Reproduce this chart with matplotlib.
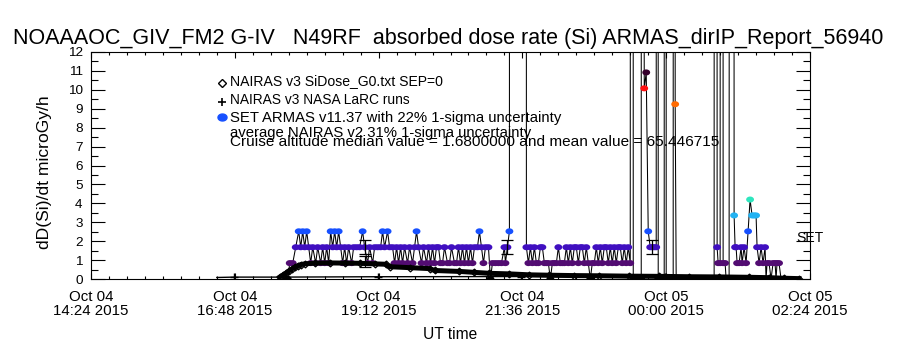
import matplotlib
matplotlib.use("Agg")
import matplotlib.pyplot as plt
import matplotlib.dates as mdates
from matplotlib.colors import ListedColormap, BoundaryNorm
from matplotlib.ticker import FixedLocator, MultipleLocator, FixedFormatter
from matplotlib.path import Path
from matplotlib import font_manager
from datetime import datetime, timedelta
import numpy as np

# ---------------- fonts ----------------
names = {f.name for f in font_manager.fontManager.ttflist}
FAM = "Liberation Sans Narrow" if "Liberation Sans Narrow" in names else "Liberation Sans"
plt.rcParams["font.family"] = [FAM, "DejaVu Sans"]

# ---------------- data ----------------
start_time = "2015-10-04 14:24"
xtick_times = ["2015-10-04 14:24", "2015-10-04 16:48", "2015-10-04 19:12",
               "2015-10-04 21:36", "2015-10-05 00:00", "2015-10-05 02:24"]
xtick_labels = ["Oct 04\n14:24 2015", "Oct 04\n16:48 2015", "Oct 04\n19:12 2015",
                "Oct 04\n21:36 2015", "Oct 05\n00:00 2015", "Oct 05\n02:24 2015"]
ytick_values = [0, 1, 2, 3, 4, 5, 6, 7, 8, 9, 10, 11, 12]

# ARMAS SET dose rate (microGy/h), minutes after 14:24 UT; 500 = off scale
armas_min = [
    197, 199, 202, 205, 208, 210, 212, 214, 216, 218,
    220, 222, 225, 227, 230, 232, 234, 236, 238, 240,
    242, 244, 246, 248, 250, 252, 254, 256, 258, 261,
    263, 266, 269, 272, 274, 277, 279, 282, 284, 287,
    290, 292, 294, 297, 299, 302, 304, 306, 308, 310,
    312, 314, 317, 319, 322, 324, 326, 328, 331, 333,
    336, 338, 340, 342, 344, 346, 348, 350, 352, 354,
    357, 359, 361, 364, 366, 368, 370, 372, 374, 376,
    378, 380, 382, 384, 387, 389, 391, 393, 395, 398,
    400, 402, 405, 408, 411, 414, 415, 417, 419, 420,
    435, 436, 438, 440, 442, 444, 446, 448, 450, 452,
    454, 456, 458, 460, 462, 464, 466, 468, 470, 472,
    474, 476, 478, 480, 482, 484, 486, 488, 490, 492,
    494, 496, 498, 500, 502, 504, 506, 508, 510, 512,
    514, 516, 518, 520, 522, 524, 526, 528, 530, 532,
    534, 536, 538, 540, 542, 543, 547, 551, 552, 554,
    556, 558, 560, 562, 564, 566, 567, 568, 571, 574,
    575, 576, 580, 583, 584, 585, 586, 590, 595, 600,
    605, 610, 615, 620, 624, 625, 627, 628, 630, 632,
    633, 635, 636, 639, 642, 644, 645, 646, 647, 649,
    651, 652, 654, 656, 658, 660, 662, 664, 666, 667,
    669, 671, 673, 675, 676, 677, 679, 681, 683, 685,
    686, 687, 689, 691]
armas_dose = [
    0.0, 0.84, 0.84, 1.68, 2.52, 1.68, 2.52, 1.68, 2.52, 1.68,
    0.84, 1.68, 0.84, 1.68, 0.84, 1.68, 0.84, 1.68, 0.84, 2.52,
    1.68, 2.52, 1.68, 2.52, 1.68, 0.84, 1.68, 0.84, 1.68, 0.84,
    1.68, 1.68, 1.68, 2.52, 1.68, 0.84, 1.68, 0.84, 1.68, 1.68,
    1.68, 2.52, 1.68, 2.52, 1.68, 1.68, 0.84, 1.68, 0.84, 1.68,
    0.84, 1.68, 0.84, 1.68, 0.84, 1.68, 2.52, 1.68, 0.84, 1.68,
    0.84, 1.68, 0.84, 1.68, 0.84, 1.68, 1.68, 0.84, 0.84, 1.68,
    0.84, 0.84, 1.68, 0.84, 0.84, 1.68, 0.84, 1.68, 0.84, 1.68,
    0.84, 1.68, 0.84, 1.68, 1.68, 2.52, 1.68, 0.84, 1.68, 1.68,
    0.0, 0.84, 0.84, 0.84, 0.84, 1.68, 0.84, 1.68, 2.52, 500.0,
    500.0, 1.68, 0.84, 1.68, 0.84, 1.68, 0.84, 0.84, 1.68, 1.68,
    0.84, 0.84, 0.84, 0.0, 0.84, 0.84, 0.84, 1.68, 0.84, 0.84,
    0.84, 1.68, 0.84, 1.68, 0.84, 1.68, 1.68, 0.84, 1.68, 1.68,
    0.84, 1.68, 0.84, 0.0, 0.84, 0.84, 1.68, 0.84, 1.68, 0.84,
    1.68, 1.68, 0.84, 1.68, 0.84, 1.68, 0.84, 1.68, 1.68, 0.84,
    1.68, 0.84, 1.68, 0.84, 500.0, 0.0, 0.0, 0.0, 500.0, 10.08,
    10.92, 2.52, 1.68, 1.68, 1.68, 1.68, 500.0, 0.0, 0.0, 0.0,
    500.0, 0.0, 0.0, 0.0, 500.0, 9.24, 0.0, 0.0, 0.0, 0.0,
    0.0, 0.0, 0.0, 0.0, 0.0, 500.0, 1.68, 0.84, 0.84, 500.0,
    0.84, 0.84, 0.0, 0.0, 500.0, 3.36, 1.68, 1.68, 0.84, 0.84,
    1.68, 0.84, 1.68, 0.84, 2.52, 4.2, 3.36, 3.36, 3.36, 1.68,
    0.84, 1.68, 0.84, 1.68, 0.0, 0.84, 0.84, 0.0, 0.84, 0.84,
    0.0, 0.84, 0.84, 0.0]

# ARMAS 22% 1-sigma uncertainty shown at a few samples
armas_err_min = [274, 417, 562]
armas_err_dose = [1.68, 1.68, 1.68]
armas_unc = 0.22

# NAIRAS v3 SiDose_G0 (SEP=0)
nairas_min = [189, 192, 195, 198, 201, 204, 207, 210, 214, 224,
              239, 254, 269, 284, 295, 299, 319, 339, 344, 369,
              384, 399, 419, 439, 459, 484, 509, 539, 569, 599,
              629, 659, 679, 694, 709]
nairas_dose = [0.10, 0.20, 0.30, 0.42, 0.53, 0.62, 0.70, 0.76, 0.80, 0.84,
               0.85, 0.84, 0.83, 0.80, 0.78, 0.65, 0.60, 0.55, 0.45, 0.40,
               0.35, 0.30, 0.27, 0.22, 0.20, 0.18, 0.17, 0.15, 0.14, 0.12,
               0.11, 0.09, 0.07, 0.04, 0.02]

# NAIRAS v3 NASA LaRC runs
larc_min = [126, 143, 189, 287, 431, 575, 709]
larc_dose = [0.08, 0.10, 0.10, 0.12, 0.13, 0.10, 0.03]
larc_mark_min = [143, 287, 431, 575]
larc_mark_dose = [0.10, 0.12, 0.13, 0.10]

# average NAIRAS with 31% uncertainty
nairas_avg_min = [274]
nairas_avg_dose = [0.93]
nairas_unc = 0.31

# colour levels for ARMAS SET points
level_bounds = [-1.0, 0.42, 1.26, 2.10, 2.94, 3.78, 6.0, 9.66, 10.5, 11.5]
level_colors = ["#000000", "#520c72", "#400fc0", "#1650ff", "#22b2f2",
                "#2ee6be", "#ff6a00", "#ff1010", "#36002c"]

title = "NOAAAOC_GIV_FM2 G-IV   N49RF  absorbed dose rate (Si) ARMAS_dirIP_Report_56940"
legend_lines = ["NAIRAS v3 SiDose_G0.txt SEP=0",
                "NAIRAS v3 NASA LaRC runs",
                "SET ARMAS v11.37 with 22% 1-sigma uncertainty",
                "average NAIRAS v2 31% 1-sigma uncertainty",
                "Cruise altitude median value = 1.6800000 and mean value = 65.446715"]

# ---------------- helpers ----------------
base = datetime.strptime(start_time, "%Y-%m-%d %H:%M")
def to_dt(mins):
    return [base + timedelta(minutes=float(m)) for m in mins]

W, H = 900, 350
fig = plt.figure(figsize=(W / 100, H / 100), dpi=100)
L, R, T, B = 91, 810, 52, 279
ax = fig.add_axes([L / W, 1 - B / H, (R - L) / W, (B - T) / H])

def fx(x):
    return x / W
def fy(y):
    return 1 - y / H

fig.canvas.draw()
renderer = fig.canvas.get_renderer()
def fit(t, width_px):
    w = t.get_window_extent(renderer).width
    t.set_fontsize(t.get_fontsize() * width_px / w)

tmp = fig.text(0.5, 0.5, "16:48 2015", fontsize=11)
fit(tmp, 75)
fs_x = tmp.get_fontsize()
tmp.remove()
tmp = fig.text(0.5, 0.5, "10", fontsize=11)
fit(tmp, 15)
fs_y = tmp.get_fontsize()
tmp.remove()

# ---------------- data drawing ----------------
ax.plot(to_dt(armas_min), armas_dose, color="k", lw=0.75, zorder=3)
cmap = ListedColormap(level_colors)
norm = BoundaryNorm(level_bounds, cmap.N)
theta = np.linspace(0, 2 * np.pi, 40)
ell = Path(np.column_stack([1.3 * np.cos(theta), np.sin(theta)]), closed=True)
ax.scatter(to_dt(armas_min), armas_dose, c=armas_dose, cmap=cmap, norm=norm,
           marker=ell, s=32, linewidths=0, zorder=4)
ax.errorbar(to_dt(armas_err_min), armas_err_dose,
            yerr=[d * armas_unc for d in armas_err_dose], fmt="none",
            ecolor="k", elinewidth=0.9, capsize=4, capthick=0.9, zorder=5)

ax.plot(to_dt(larc_min), larc_dose, color="k", lw=1.0, zorder=5)
ax.plot(to_dt(larc_mark_min), larc_mark_dose, ls="none", marker="+", ms=6,
        mew=1.0, color="k", zorder=5)
ax.plot(to_dt(nairas_min), nairas_dose, color="k", lw=3.6, marker="D", ms=3.5,
        mfc="none", mec="k", mew=0.9, zorder=6)
ax.errorbar(to_dt(nairas_avg_min), nairas_avg_dose,
            yerr=[d * nairas_unc for d in nairas_avg_dose], fmt="none",
            ecolor="k", elinewidth=0.9, capsize=4, capthick=0.9, zorder=6)

# ---------------- axes ----------------
ax.set_ylim(0, 12)
ax.set_xlim(mdates.date2num(base), mdates.date2num(base + timedelta(hours=12)))
major = [mdates.date2num(datetime.strptime(t, "%Y-%m-%d %H:%M")) for t in xtick_times]
step = (major[1] - major[0]) / 8.0
minor = list(np.arange(major[0], major[-1] + step / 2, step))
ax.xaxis.set_major_locator(FixedLocator(major))
ax.xaxis.set_major_formatter(FixedFormatter(xtick_labels))
ax.xaxis.set_minor_locator(FixedLocator(minor))
ax.yaxis.set_major_locator(FixedLocator(ytick_values))
ax.yaxis.set_minor_locator(MultipleLocator(0.5))

for s in ax.spines.values():
    s.set_linewidth(0.8)
ax.tick_params(which="both", direction="in", top=True, right=True, width=0.8,
               colors="k")
ax.tick_params(axis="y", which="major", length=10, pad=6, labelsize=fs_y)
ax.tick_params(axis="y", which="minor", length=5)
ax.tick_params(axis="x", which="major", length=4.5, pad=8, labelsize=fs_x)
ax.tick_params(axis="x", which="minor", length=2.5)
for lab in ax.get_xticklabels():
    lab.set_linespacing(1.0)

# ---------------- texts ----------------
t_title = fig.text(fx(448.5), fy(44), title, ha="center", va="baseline", fontsize=16)
fit(t_title, 873)

leg_y = [85.5, 103.5, 122, 136.5, 146]
leg_w = [213, 180, 332, 303, 490]
leg_t = []
for txt, yb, wd in zip(legend_lines, leg_y, leg_w):
    t = fig.text(fx(230.5), fy(yb), txt, ha="left", va="baseline", fontsize=10)
    fit(t, wd)
    leg_t.append(t)
fs_leg = leg_t[0].get_fontsize()

fig.lines.append(plt.Line2D([fx(221.7)], [fy(83)], transform=fig.transFigure, marker="D",
                            ms=3.8, mfc="none", mec="k", mew=1.0, ls="none"))
fig.lines.append(plt.Line2D([fx(221.7)], [fy(101.5)], transform=fig.transFigure, marker="+",
                            ms=6, mec="k", mew=1.2, ls="none"))
fig.lines.append(plt.Line2D([fx(221.7)], [fy(117.3)], transform=fig.transFigure, marker=ell,
                            ms=6.5, mfc=level_colors[3], mec=level_colors[3], ls="none"))

fig.text(fx(796), fy(242), "SET", ha="left", va="baseline", fontsize=fs_leg)
t_ut = fig.text(fx(450), fy(339), "UT time", ha="center", va="baseline", fontsize=12)
fit(t_ut, 54)
t_yl = fig.text(fx(45), fy(172), "dD(Si)/dt microGy/h", ha="center", va="center",
                rotation=90, fontsize=12)
fit_h = t_yl.get_window_extent(renderer).height
t_yl.set_fontsize(t_yl.get_fontsize() * 154 / fit_h)

fig.savefig("out.png", dpi=100)
